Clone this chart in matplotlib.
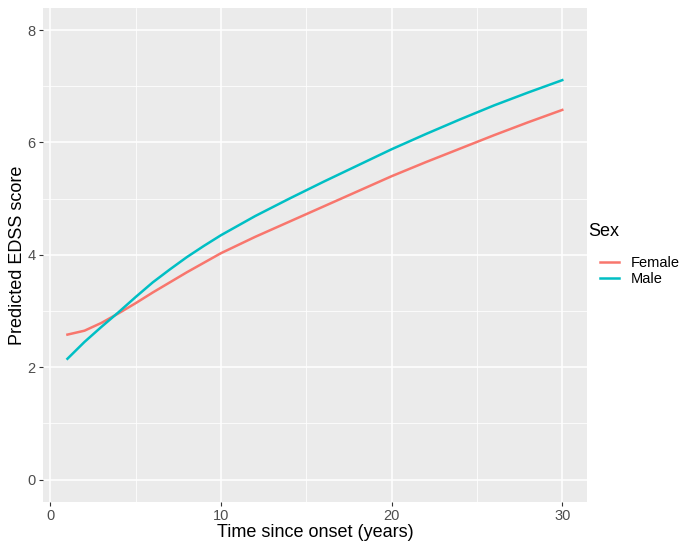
import matplotlib
matplotlib.use('Agg')
import matplotlib.pyplot as plt
from matplotlib.ticker import MultipleLocator

plt.rcParams['font.family'] = ['Liberation Sans', 'DejaVu Sans']

# 数据：病程年数与预测EDSS评分
years = [1, 2, 3, 4, 5, 6, 7, 8, 9, 10, 12, 14, 16, 18, 20, 22, 24, 26, 28, 30]
female = [2.58, 2.65, 2.79, 2.96, 3.14, 3.33, 3.51, 3.69, 3.86, 4.03,
          4.32, 4.59, 4.86, 5.13, 5.40, 5.65, 5.89, 6.13, 6.36, 6.58]
male = [2.15, 2.45, 2.72, 2.98, 3.25, 3.51, 3.74, 3.96, 4.16, 4.35,
        4.69, 5.00, 5.30, 5.59, 5.88, 6.15, 6.41, 6.66, 6.89, 7.11]
series_names = ['Female', 'Male']
series_colors = ['#F8766D', '#00BFC4']
x_ticks = [0, 10, 20, 30]
y_ticks = [0, 2, 4, 6, 8]

fig = plt.figure(figsize=(6.81, 5.48), dpi=100)
ax = fig.add_axes([0.0627, 0.0839, 0.862 - 0.0627, 0.986 - 0.0839])
ax.set_facecolor('#EBEBEB')

# 网格线（ggplot风格）
ax.xaxis.set_minor_locator(MultipleLocator(5))
ax.yaxis.set_minor_locator(MultipleLocator(1))
ax.grid(which='major', color='white', linewidth=1.1)
ax.grid(which='minor', color='white', linewidth=0.55)
ax.set_axisbelow(True)

for vals, name, col in zip([female, male], series_names, series_colors):
    ax.plot(years, vals, color=col, linewidth=1.8, label=name)

ax.set_xlim(-0.45, 31.45)
ax.set_ylim(-0.4, 8.4)
ax.set_xticks(x_ticks)
ax.set_yticks(y_ticks)
for s in ax.spines.values():
    s.set_visible(False)
ax.tick_params(which='major', length=3, width=0.8, color='#333333',
               labelsize=10.5, labelcolor='#4D4D4D', pad=2)
ax.tick_params(which='minor', length=0)

ax.set_xlabel('Time since onset (years)', fontsize=13, labelpad=1)
ax.set_ylabel('Predicted EDSS score', fontsize=13, labelpad=1)

# 图例
fig.text(588 / 681, 1 - 232 / 548, 'Sex', fontsize=13, ha='left', va='center')
leg = fig.legend(loc='upper left', bbox_to_anchor=(0.862, 1 - 243 / 548), frameon=False,
                 fontsize=10.5, handlelength=1.3, handletextpad=0.8, labelspacing=0.15)

fig.savefig('out.png', dpi=100)
